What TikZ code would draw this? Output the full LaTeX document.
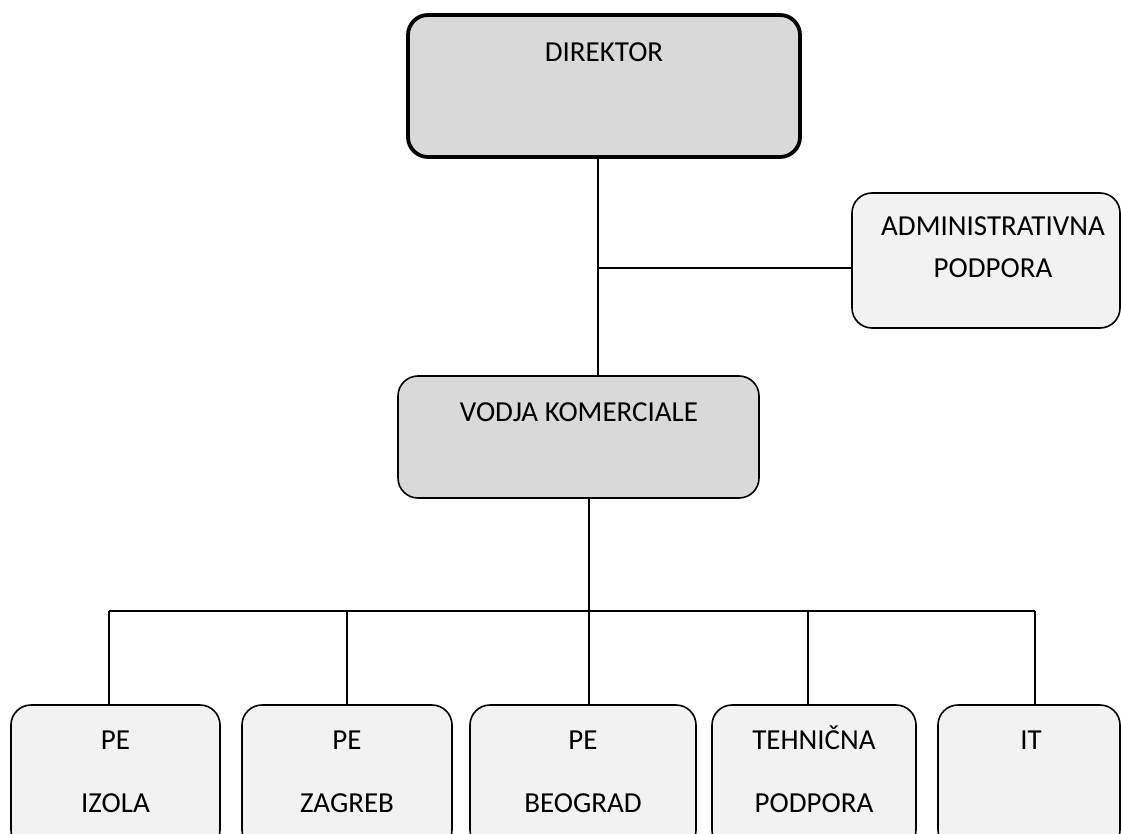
\documentclass[tikz,border=0pt]{standalone}
\usepackage{fontspec}
\setmainfont{Carlito}
\definecolor{darkfill}{HTML}{D9D9D9}
\definecolor{lightfill}{HTML}{F2F2F2}
\begin{document}
\begin{tikzpicture}[x=1pt,y=-1pt,
  box/.style={draw=black, line width=1.6pt, rounded corners=20pt, inner sep=0pt, outer sep=0pt},
  lbl/.style={anchor=base, inner sep=0pt, font=\fontsize{29}{35}\selectfont},
  conn/.style={draw=black, line width=1.6pt}]
\useasboundingbox (0,0) rectangle (1121,834);
\clip (0,0) rectangle (1121,834);
% boxes
\node[box, fill=darkfill, line width=3.8pt, minimum width=392pt, minimum height=142pt] (dir) at (604,86) {};
\node[box, fill=darkfill, minimum width=361pt, minimum height=122pt] (vod) at (578.5,437) {};
\node[box, fill=lightfill, minimum width=268pt, minimum height=135pt] (adm) at (986,260.5) {};
\node[box, fill=lightfill, minimum width=209pt, minimum height=145pt] (b1) at (115.5,777.5) {};
\node[box, fill=lightfill, minimum width=210pt, minimum height=145pt] (b2) at (347,777.5) {};
\node[box, fill=lightfill, minimum width=226pt, minimum height=145pt] (b3) at (583,777.5) {};
\node[box, fill=lightfill, minimum width=204pt, minimum height=145pt] (b4) at (814,777.5) {};
\node[box, fill=lightfill, minimum width=182pt, minimum height=145pt] (b5) at (1029,777.5) {};
% labels
\node[lbl] (tdir) at (604,62) {DIREKTOR};
\node[lbl] (tvod) at (579,421) {VODJA KOMERCIALE};
\node[lbl] (tadm1) at (993,236) {ADMINISTRATIVNA};
\node[lbl] (tadm2) at (993,277) {PODPORA};
\node[lbl] (tb1a) at (115.5,749) {PE};
\node[lbl] (tb1b) at (115.5,812) {IZOLA};
\node[lbl] (tb2a) at (347,749) {PE};
\node[lbl] (tb2b) at (347,812) {ZAGREB};
\node[lbl] (tb3a) at (583,749) {PE};
\node[lbl] (tb3b) at (583,812) {BEOGRAD};
\node[lbl] (tb4a) at (814,749) {TEHNIČNA};
\node[lbl] (tb4b) at (814,812) {PODPORA};
\node[lbl] (tb5a) at (1031,749) {IT};
% connectors
\coordinate (j1) at (598,268);
\draw[conn] (j1 |- dir.south) -- (j1 |- vod.north);
\draw[conn] (j1) -- (j1 -| adm.west);
\coordinate (d1) at (109,611);
\coordinate (d2) at (347,611);
\coordinate (d3) at (589,611);
\coordinate (d4) at (808,611);
\coordinate (d5) at (1035,611);
\draw[conn] (d1) -- (d5);
\draw[conn] (d3 |- vod.south) -- (d3);
\foreach \i in {1,...,5} {\draw[conn] (d\i) -- (d\i |- b\i.north);}
\end{tikzpicture}
\end{document}
